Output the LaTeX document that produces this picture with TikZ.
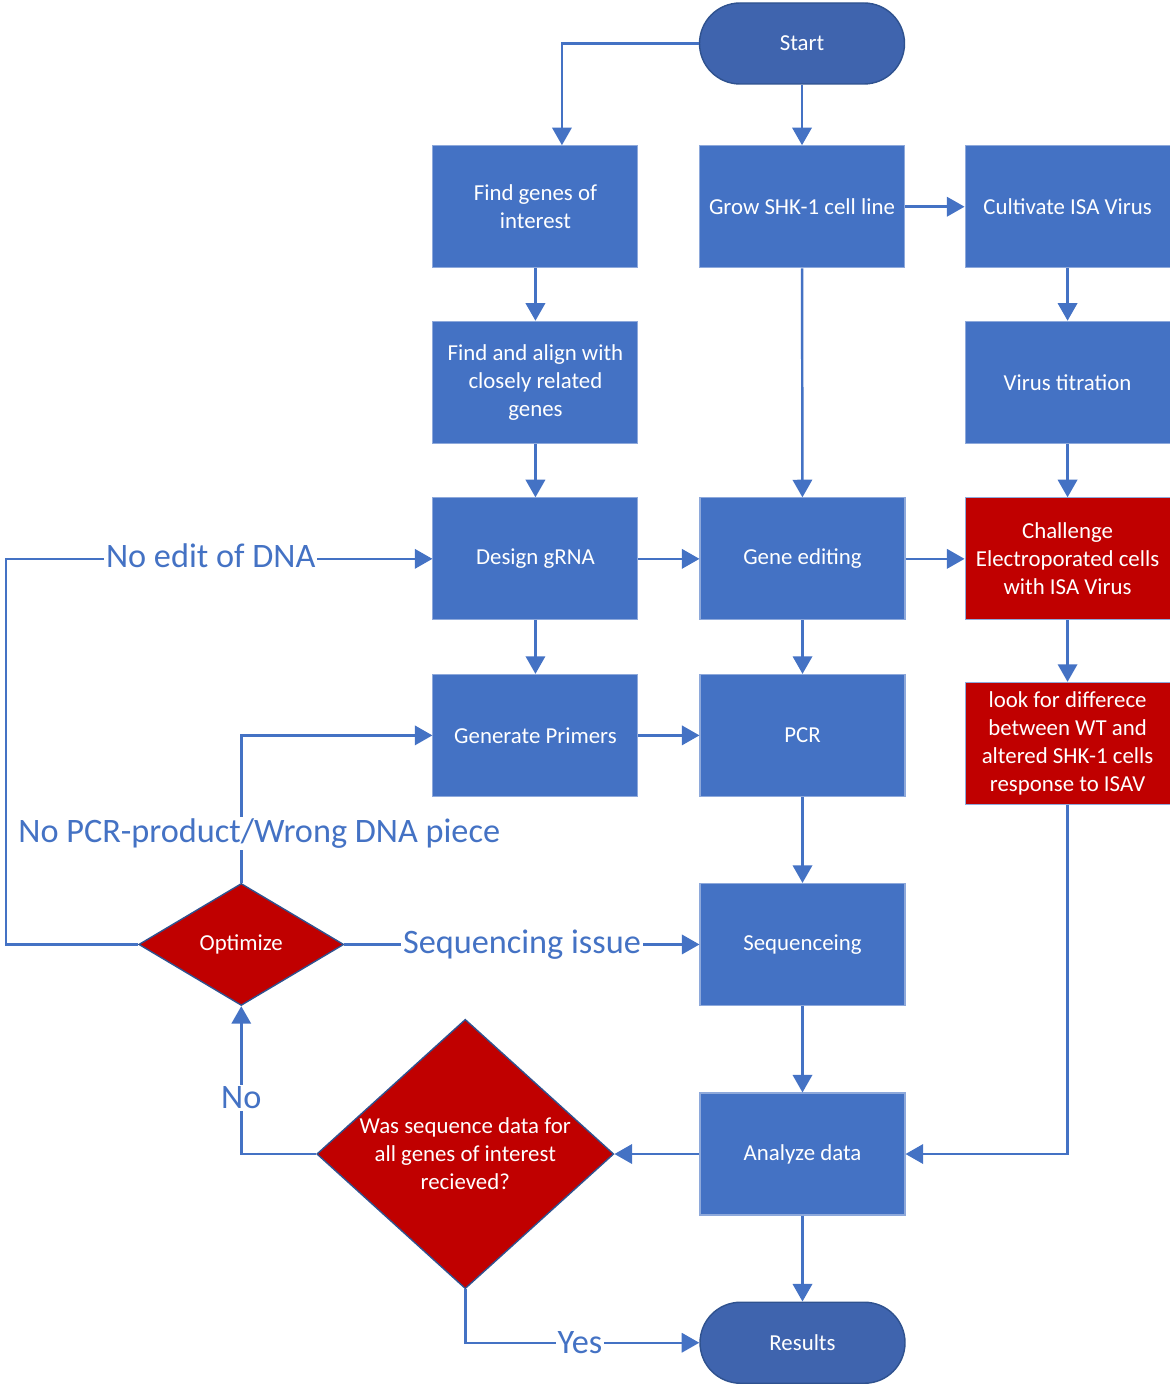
\documentclass[tikz,border=0pt]{standalone}
\usepackage{fontspec}
\setmainfont{Carlito}
\usetikzlibrary{positioning,shapes.geometric,arrows.meta}
\definecolor{boxblue}{HTML}{4472C4}
\definecolor{boxedge}{HTML}{8EA9DB}
\definecolor{termblue}{HTML}{3F64AE}
\definecolor{termedge}{HTML}{2F528F}
\definecolor{alertred}{HTML}{C00000}
\definecolor{lineblue}{HTML}{4472C4}

\begin{document}
\begin{tikzpicture}[node distance=1.06cm and 1.22cm,>={Triangle[width=11pt,length=10pt]},
    every node/.append style={align=center,font=\fontsize{13}{16}\selectfont},
    proc/.style={draw=boxedge, line width=0.6pt, fill=boxblue, text=white, minimum width=4.1cm, minimum height=2.44cm, inner sep=2pt},
    alert/.style={proc, fill=alertred},
    term/.style={draw=termedge, line width=0.8pt, fill=termblue, text=white, rounded corners=0.81cm, minimum width=4.1cm, minimum height=1.62cm},
    decision/.style={diamond, draw=termedge, line width=0.8pt, fill=alertred, text=white, inner sep=-2pt},
    flow/.style={draw=lineblue, line width=1.4pt, ->},
    tag/.style={fill=white, text=lineblue, inner sep=1pt, font=\fontsize{19.5}{23}\selectfont}]
    \useasboundingbox (0,0) rectangle (23.38,-27.72);
    % top and middle column
    \node [term] (start) at (16.04,-0.87) {Start};
    \node [proc, below=1.21cm of start] (grow) {Grow SHK-1 cell line};
    \node [proc, left=1.21cm of grow] (genes) {Find genes of\\interest};
    \node [proc, right=1.19cm of grow] (cultivate) {Cultivate ISA Virus};
    \node [proc, below=1.05cm of genes] (align) {Find and align with\\closely related\\genes};
    \node [proc, below=1.07cm of align] (design) {Design gRNA};
    \node [proc, below=1.07cm of design] (primers) {Generate Primers};
    \node [proc, right=1.22cm of design] (edit) {Gene editing};
    \node [proc, right=1.22cm of primers] (pcr) {PCR};
    % virus column
    \node [proc, below=1.05cm of cultivate] (titration) {Virus titration};
    \node [alert, below=1.07cm of titration] (challenge) {Challenge\\Electroporated cells\\with ISA Virus};
    \node [alert, below=1.23cm of challenge] (look) {look for differece\\between WT and\\altered SHK-1 cells\\response to ISAV};
    % lower part
    \node [proc, below=1.72cm of pcr] (seq) {Sequenceing};
    \node [proc, below=1.73cm of seq] (analyze) {Analyze data};
    \node [term, below=1.72cm of analyze] (results) {Results};
    \node [decision, minimum width=4.1cm, minimum height=2.44cm, left=7.1cm of seq] (opt) {Optimize};
    \node [decision, minimum width=5.94cm, minimum height=5.12cm, left=1.7cm of analyze] (check) {Was sequence data for\\all genes of interest\\recieved?};

    \draw[flow] (start.west) -| ([xshift=0.53cm]genes.north);
    \draw[flow] (start) -- (grow);
    \draw[flow] (genes) -- (align);
    \draw[flow] (align) -- (design);
    \draw[flow] (design) -- (primers);
    \draw[flow] (grow) -- (cultivate);
    \draw[flow] (cultivate) -- (titration);
    \draw[flow] (titration) -- (challenge);
    \draw[flow] (grow) -- (edit);
    \draw[flow] (design) -- (edit);
    \draw[flow] (edit) -- (challenge);
    \draw[flow] (edit) -- (pcr);
    \draw[flow] (primers) -- (pcr);
    \draw[flow] (pcr) -- (seq);
    \draw[flow] (seq) -- (analyze);
    \draw[flow] (analyze) -- (results);
    \draw[flow] (challenge) -- (look);
    \draw[flow] (look.south) |- (analyze.east);
    \draw[flow] (analyze) -- (check);
    \draw[flow] (check.west) -| node[tag, pos=0.69] {No} (opt.south);
    \draw[flow] (check.south) |- node[tag, pos=0.745] {Yes} (results.west);
    \draw[flow] (opt) -- node[tag] {Sequencing issue} (seq);
    \draw[flow] (opt.north) |- node[tag, pos=0.167, xshift=0.36cm] {No PCR-product/Wrong DNA piece} (primers.west);
    \draw[flow] (opt.west) -- ++(-2.64,0) |- node[tag, pos=0.74, yshift=0.06cm] {No edit of DNA} (design.west);
\end{tikzpicture}
\end{document}
